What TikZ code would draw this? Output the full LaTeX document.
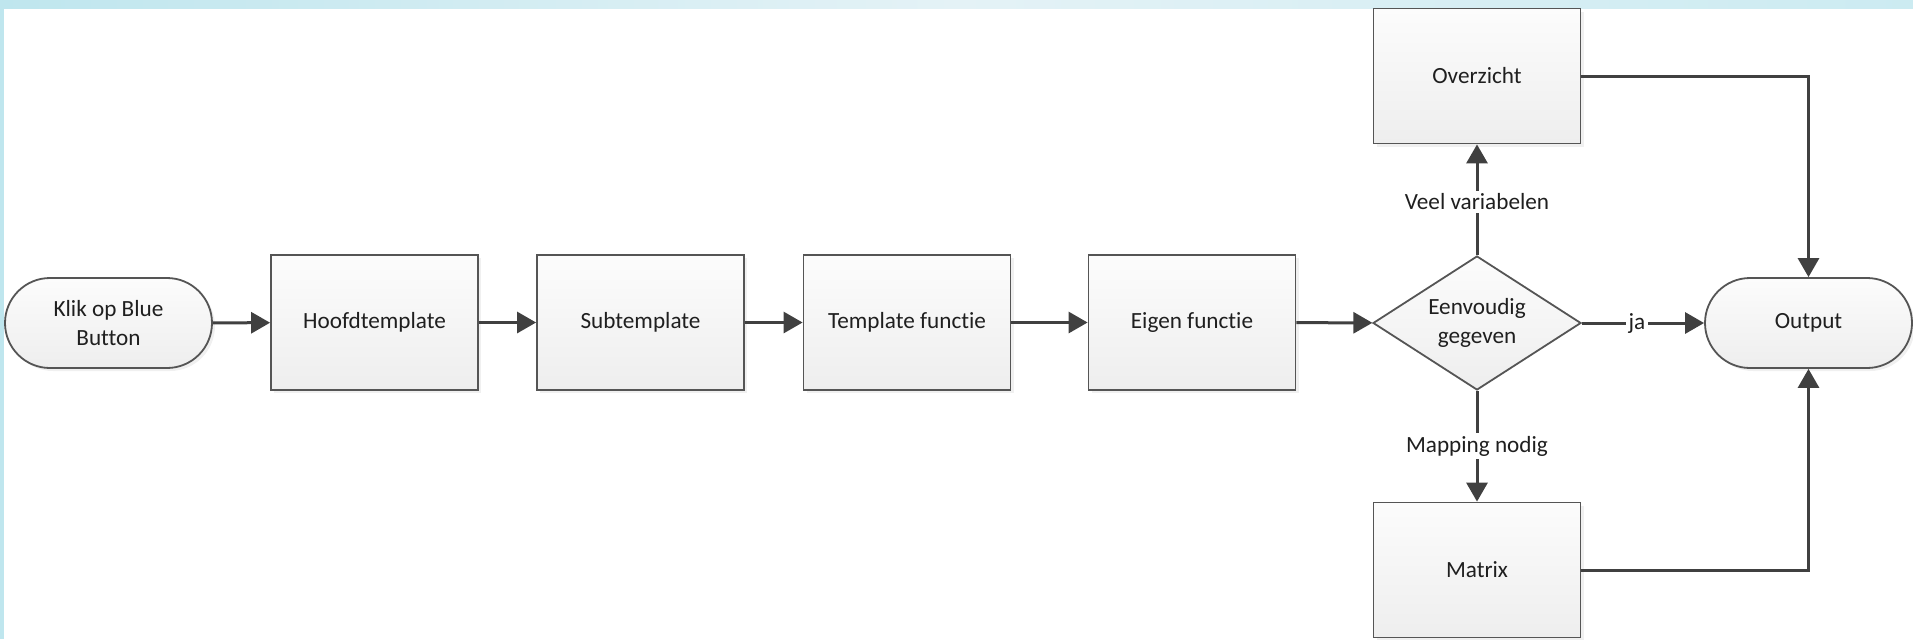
\documentclass[tikz,border=0pt]{standalone}
\usepackage{fontspec}
\setmainfont{Carlito}[Ligatures={NoCommon,NoContextual}]
\usetikzlibrary{shapes.geometric,arrows.meta,shadows}

\definecolor{lineGray}{HTML}{404040}
\definecolor{boxBorder}{HTML}{555555}
\definecolor{boxTop}{HTML}{FCFCFC}
\definecolor{boxBot}{HTML}{EEEEEE}
\definecolor{frameBlue}{HTML}{BFE6EE}
\definecolor{frameLight}{HTML}{E4F2F6}

\tikzset{
    process/.style={draw=boxBorder, line width=0.9pt, rectangle,
        top color=boxTop, bottom color=boxBot,
        minimum width=103.5pt, minimum height=67.5pt, inner sep=2pt,
        align=center, text=black!88,
        drop shadow={opacity=0.12, shadow xshift=1.5pt, shadow yshift=-1.5pt}},
    terminal/.style={process, rounded corners=22.5pt,
        minimum height=45pt},
    decision/.style={draw=boxBorder, line width=0.9pt, diamond, aspect=1.55,
        top color=boxTop, bottom color=boxBot,
        minimum width=104pt, minimum height=67pt, inner sep=0pt,
        align=center, text=black!88},
    flow/.style={draw=lineGray, line width=1.5pt,
        -{Triangle[length=9.5pt, width=10.5pt]}},
    flowlabel/.style={fill=white, inner sep=1.5pt, text=black!88}
}

\begin{document}
\begin{tikzpicture}[x=0.5pt, y=-0.5pt, font=\fontsize{11.6}{14.5}\selectfont]

    \useasboundingbox (0,0) rectangle (1913,639);

    % light blue frame
    \shade[left color=frameBlue, right color=frameLight] (0,0) rectangle (956,8);
    \shade[left color=frameLight, right color=frameBlue!80] (956,0) rectangle (1913,8);
    \fill[frameBlue] (0,0) rectangle (4,639);

    % main row
    \node[terminal] (KlikOpBlue) at (108.5,323) {Klik op Blue\\Button};
    \node[process] (HoofdTpl) at (374.5,322.5) {Hoofdtemplate};
    \node[process] (SubTpl) at (640.5,322.5) {Subtemplate};
    \node[process] (TplFunctie) at (907,322.5) {Template functie};
    \node[process] (EigenFunctie) at (1192,322.5) {Eigen functie};
    \node[decision] (Eenvoudig) at (1477,323) {Eenvoudig\\gegeven};
    \node[terminal] (Output) at (1808.5,323) {Output};

    % branches
    \node[process] (Overzicht) at (1477,76) {Overzicht};
    \node[process] (Matrix) at (1477,570) {Matrix};

    \draw[flow] (KlikOpBlue) -- (HoofdTpl);
    \draw[flow] (HoofdTpl) -- (SubTpl);
    \draw[flow] (SubTpl) -- (TplFunctie);
    \draw[flow] (TplFunctie) -- (EigenFunctie);
    \draw[flow] (EigenFunctie) -- (Eenvoudig);

    \draw[flow] (Eenvoudig) -- node[flowlabel, pos=0.45] {ja} (Output);
    \draw[flow] (Eenvoudig) -- node[flowlabel, pos=0.48] {Veel variabelen} (Overzicht);
    \draw[flow] (Eenvoudig) -- node[flowlabel, pos=0.5] {Mapping nodig} (Matrix);

    \draw[flow] (Overzicht.east) -| (Output.north);
    \draw[flow] (Matrix.east) -| (Output.south);

\end{tikzpicture}
\end{document}
